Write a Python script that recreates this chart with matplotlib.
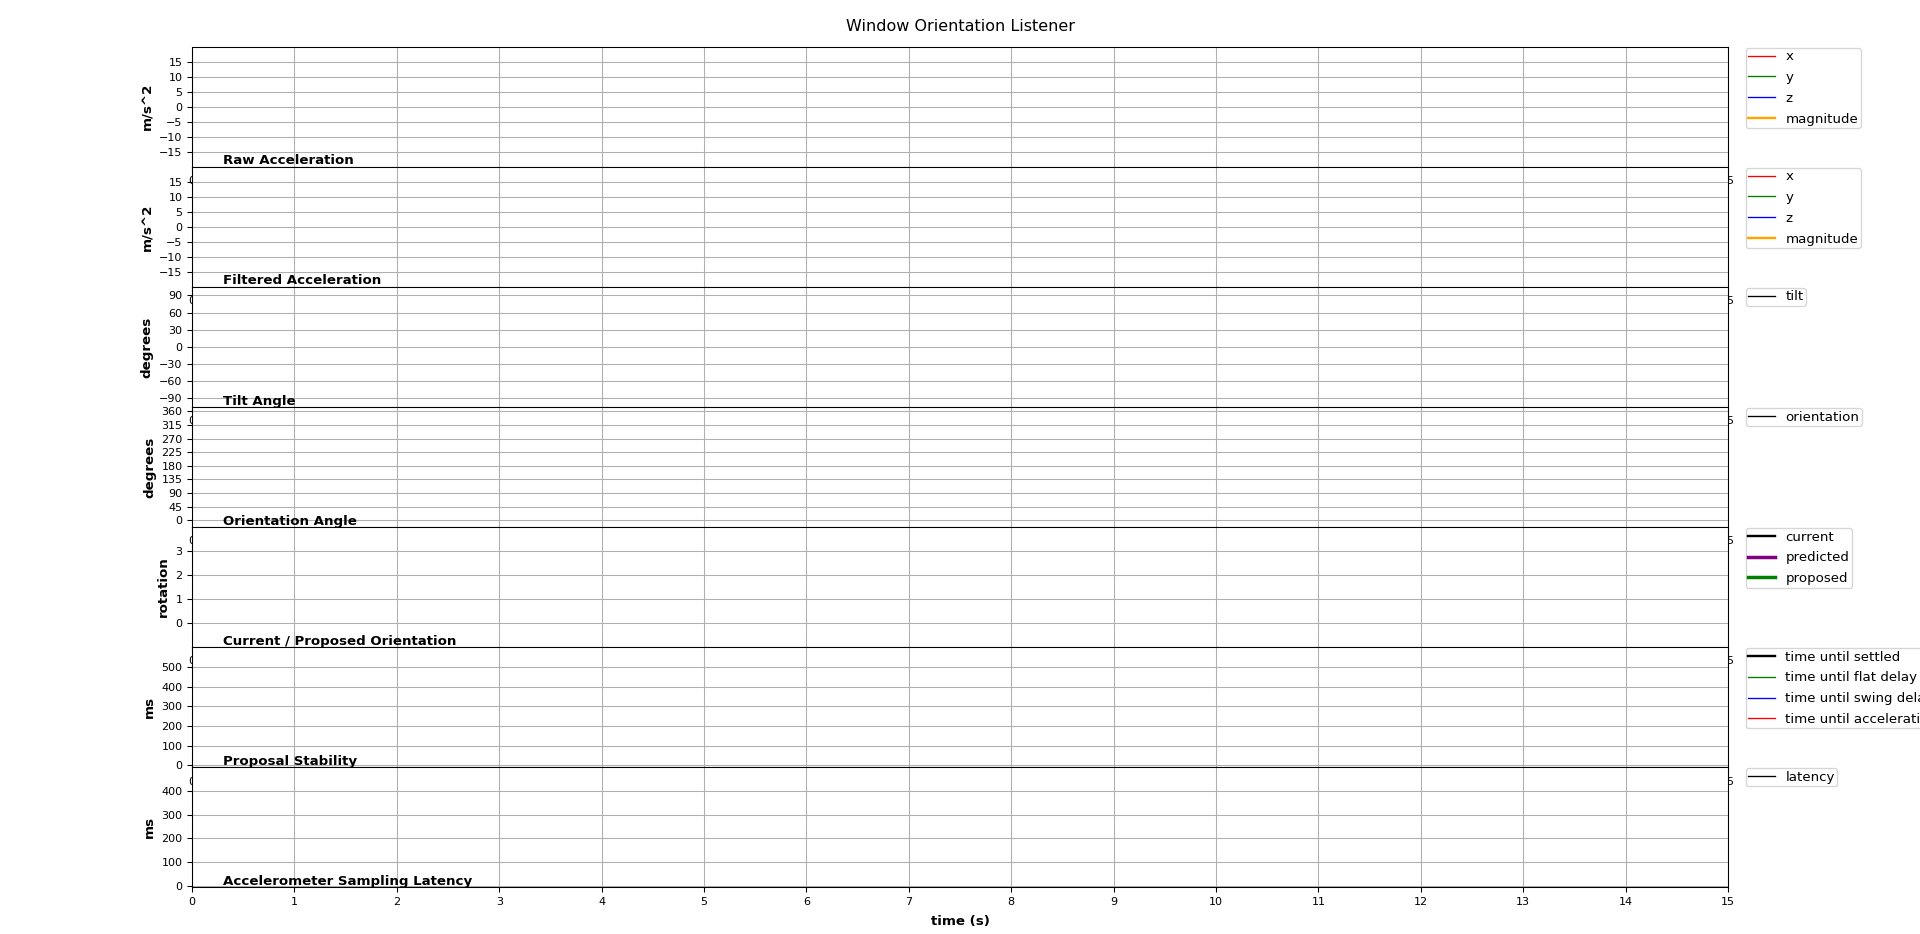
import numpy as np
import matplotlib
matplotlib.use('Agg')
import matplotlib.pyplot as plt

# no samples were recorded, so every series is empty
t = np.array([])
raw_x, raw_y, raw_z, raw_mag = np.array([]), np.array([]), np.array([]), np.array([])
filt_x, filt_y, filt_z, filt_mag = np.array([]), np.array([]), np.array([]), np.array([])
tilt = np.array([])
orientation = np.array([])
current, predicted, proposed = np.array([]), np.array([]), np.array([])
settled, flat_delay, swing_delay, accel_delay = np.array([]), np.array([]), np.array([]), np.array([])
latency = np.array([])

timespan = 15
xticks = list(range(0, 16))

titles = ['Raw Acceleration', 'Filtered Acceleration', 'Tilt Angle', 'Orientation Angle',
          'Current / Proposed Orientation', 'Proposal Stability', 'Accelerometer Sampling Latency']
ylabels = ['m/s^2', 'm/s^2', 'degrees', 'degrees', 'rotation', 'ms', 'ms']
ylims = [(-20, 20), (-20, 20), (-105, 105), (-22.5, 375), (-1, 4), (-10, 600), (-7, 500)]
yticks = [range(-15, 16, 5), range(-15, 16, 5), range(-90, 91, 30), range(0, 361, 45),
          range(0, 4), range(0, 501, 100), range(0, 401, 100)]

# 96 dpi so the 10pt texts come out the same pixel size as the reference
fig = plt.figure(figsize=(20, 934 / 96), dpi=96)
fig.suptitle('Window Orientation Listener', fontsize=12)
fig.subplots_adjust(left=0.1, right=0.9, top=0.95, bottom=0.05, hspace=0)

axes = []
for i in range(7):
    ax = fig.add_subplot(7, 1, i + 1)
    ax.set_xlim(0, timespan)
    ax.set_xticks(xticks)
    ax.set_ylim(ylims[i])
    ax.set_yticks(list(yticks[i]))
    ax.tick_params(labelsize=8.33)
    ax.set_ylabel(ylabels[i], fontsize=10, fontweight='bold')
    ax.grid(True)
    ax.text(0.02, 0.02, titles[i], transform=ax.transAxes, fontsize=10,
            fontweight='bold', va='baseline', ha='left')
    axes.append(ax)

ax = axes[0]
ax.plot(t, raw_x, color='r', lw=1.0, label='x')
ax.plot(t, raw_y, color='g', lw=1.0, label='y')
ax.plot(t, raw_z, color='b', lw=1.0, label='z')
ax.plot(t, raw_mag, color='orange', lw=1.8, label='magnitude')

ax = axes[1]
ax.plot(t, filt_x, color='r', lw=1.0, label='x')
ax.plot(t, filt_y, color='g', lw=1.0, label='y')
ax.plot(t, filt_z, color='b', lw=1.0, label='z')
ax.plot(t, filt_mag, color='orange', lw=1.8, label='magnitude')

axes[2].plot(t, tilt, color='black', lw=1.0, label='tilt')
axes[3].plot(t, orientation, color='black', lw=1.0, label='orientation')

ax = axes[4]
ax.plot(t, current, color='black', lw=1.8, label='current')
ax.plot(t, predicted, color='purple', lw=2.6, label='predicted')
ax.plot(t, proposed, color='green', lw=2.6, label='proposed')

ax = axes[5]
ax.plot(t, settled, color='black', lw=1.8, label='time until settled')
ax.plot(t, flat_delay, color='green', lw=1.0, label='time until flat delay expired')
ax.plot(t, swing_delay, color='blue', lw=1.0, label='time until swing delay expired')
ax.plot(t, accel_delay, color='red', lw=1.0, label='time until acceleration delay expired')

axes[6].plot(t, latency, color='black', lw=1.0, label='latency')
axes[6].set_xlabel('time (s)', fontsize=10, fontweight='bold', labelpad=6)

for ax in axes:
    ax.legend(loc='upper left', bbox_to_anchor=(1.0115, 0.99), borderaxespad=0,
              fontsize=10, borderpad=0.18, labelspacing=0.58)

fig.savefig('out.png', dpi=96)
